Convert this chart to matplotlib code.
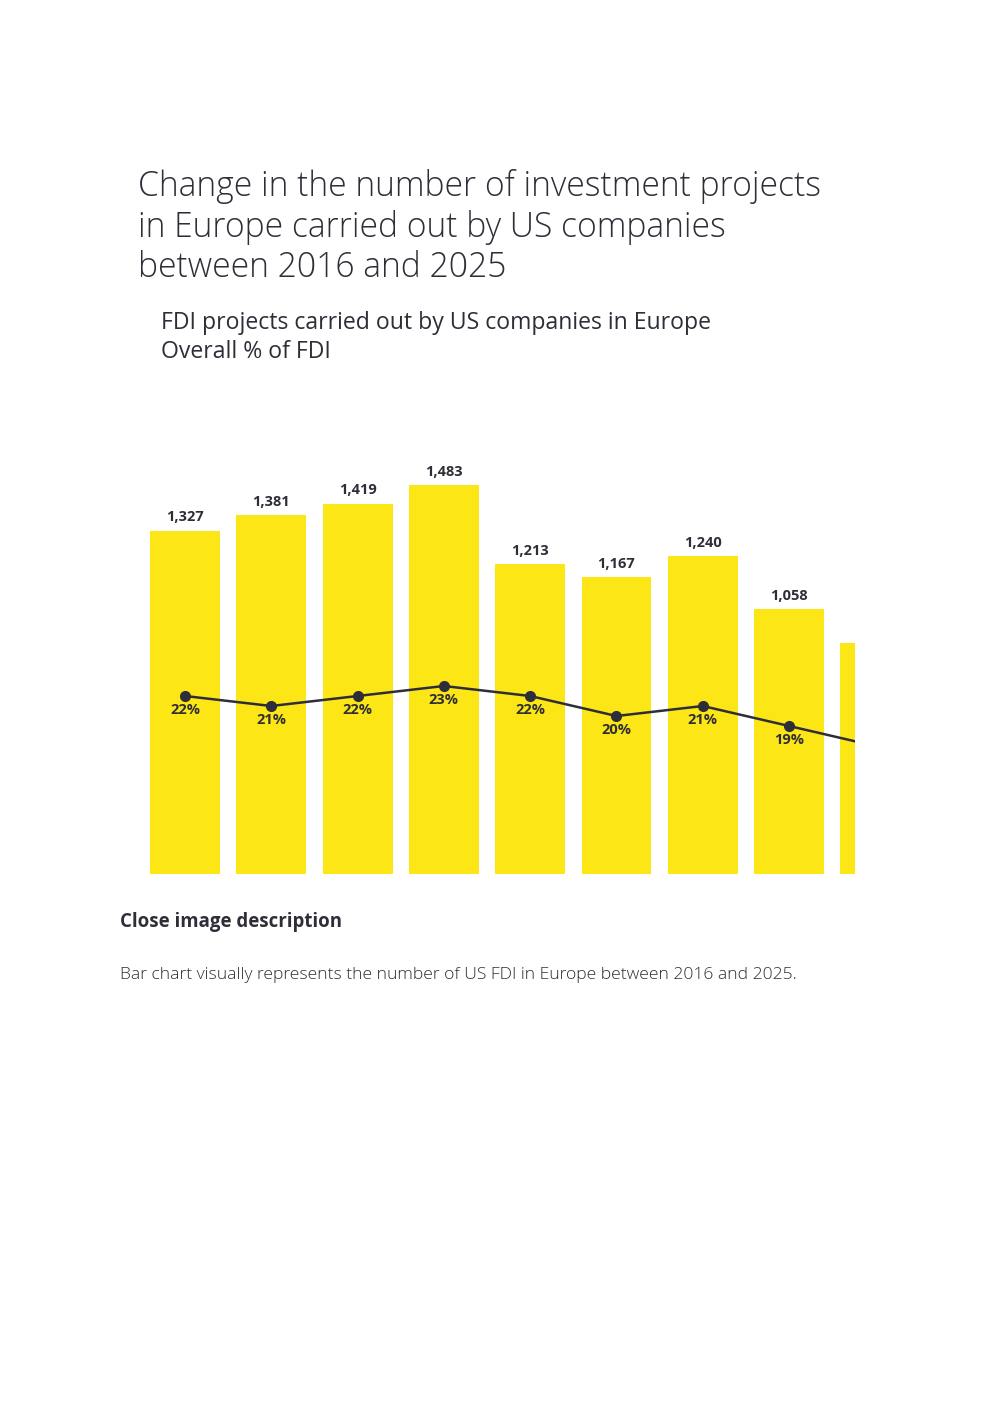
import matplotlib
matplotlib.use('Agg')
import matplotlib.pyplot as plt

# data
years = ['2016', '2017', '2018', '2019', '2020', '2021', '2022', '2023', '2024']
projects = [1327, 1381, 1419, 1483, 1213, 1167, 1240, 1058, 942]
share = [22, 21, 22, 23, 22, 20, 21, 19, 17]
bar_labels = ['1,327', '1,381', '1,419', '1,483', '1,213', '1,167', '1,240', '1,058', '']
share_labels = ['22%', '21%', '22%', '23%', '22%', '20%', '21%', '19%', '']

title = 'Change in the number of investment projects\nin Europe carried out by US companies\nbetween 2016 and 2025'
subtitle = 'FDI projects carried out by US companies in Europe\nOverall % of FDI'
desc_head = 'Close image description'
desc_text = 'Bar chart visually represents the number of US FDI in Europe between 2016 and 2025.'

YELLOW = '#fce616'
DARK = '#2e2e38'
FONT = ['Open Sans', 'DejaVu Sans']

W, H = 992, 1403
fig = plt.figure(figsize=(W / 100, H / 100), dpi=100)
fig.patch.set_facecolor('white')


def px(x, y):
    return x / W, 1 - y / H


# bars are cut at the right edge of the chart area, as in the original page
ax = fig.add_axes([142 / W, 1 - 874 / H, (855 - 142) / W, (874 - 440) / H])
x = list(range(len(years)))
ax.bar(x, projects, width=0.81, color=YELLOW, zorder=1)
ax.set_xlim(-0.498, 7.764)
ax.set_ylim(151, 1637)
ax.axis('off')

for i, lab in enumerate(bar_labels):
    if lab:
        ax.annotate(lab, (i, projects[i]), xytext=(0, 4.5), textcoords='offset points',
                    ha='center', va='bottom', fontsize=10.5, fontweight='bold',
                    color=DARK, family=FONT)

ax2 = ax.twinx()
ax2.set_ylim(4.2, 47.6)
ax2.set_xlim(-0.498, 7.764)
ax2.plot(x, share, color=DARK, lw=1.8, marker='o', markersize=7, zorder=3)
ax2.axis('off')
for i, lab in enumerate(share_labels):
    if lab:
        ax2.annotate(lab, (i, share[i]), xytext=(0, -5.2), textcoords='offset points',
                     ha='center', va='top', fontsize=10.5, fontweight='bold',
                     color=DARK, family=FONT)

fig.text(*px(138, 169), title, ha='left', va='top', fontsize=24.2, fontweight='light',
         color=DARK, family=FONT, linespacing=1.22)
fig.text(*px(161, 311), subtitle, ha='left', va='top', fontsize=16.6,
         color=DARK, family=FONT, linespacing=1.3)
fig.text(*px(120, 912), desc_head, ha='left', va='top', fontsize=13.4, fontweight='bold',
         color=DARK, family=FONT)
fig.text(*px(120, 967), desc_text, ha='left', va='top', fontsize=12.6, fontweight='light',
         color=DARK, family=FONT)

fig.savefig('out.png', dpi=100)
